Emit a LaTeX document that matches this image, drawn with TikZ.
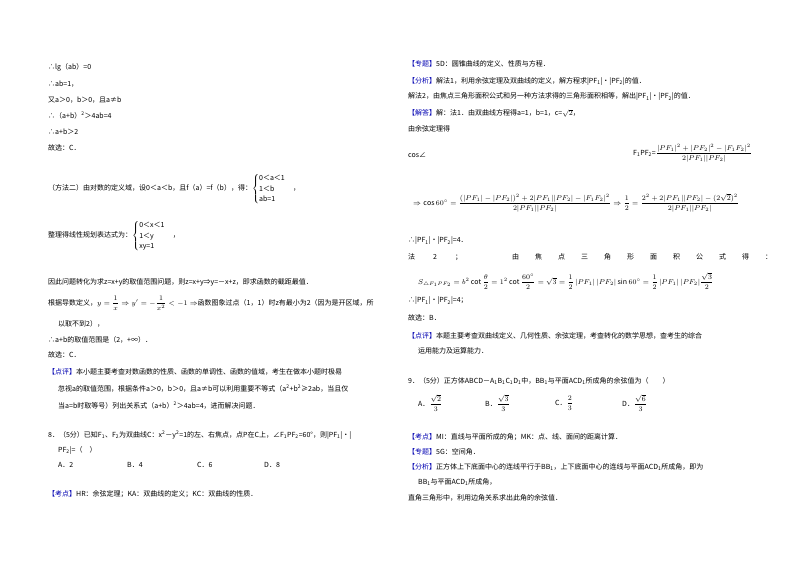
\documentclass[tikz,border=0pt]{standalone}
\usepackage{fontspec}
\usepackage{amsmath}
\setmainfont{Noto Sans CJK SC}
\newfontfamily\serifm{Liberation Serif}
\begin{document}
\begin{tikzpicture}[x=1pt,y=-1pt,
  t/.style={anchor=west,inner sep=0pt,font=\fontsize{7}{8.5}\selectfont}]
\useasboundingbox (0,0) rectangle (800,565);
\fill[white] (0,0) rectangle (800,565);
% left column
\node[t] (l1) at (48,67) {∴lg（ab）=0};
\node[t] (l2) at (48,84) {∴ab=1，};
\node[t] (l3) at (48,100) {又a＞0，b＞0，且a≠b};
\node[t] (l4) at (48,116) {∴（a+b）\textsuperscript{2}＞4ab=4};
\node[t] (l5) at (48,132) {∴a+b＞2};
\node[t] (l6) at (48,148) {故选：C．};
\node[t] (l7) at (48,189) {（方法二）由对数的定义域，设0＜a＜b，且f（a）=f（b），得：$\begin{cases}\text{0＜a＜1}\\ \text{1＜b}\\ \text{ab=1}\end{cases}$，};
\node[t] (l8) at (48,236) {整理得线性规划表达式为：$\begin{cases}\text{0＜x＜1}\\ \text{1＜y}\\ \text{xy=1}\end{cases}$，};
\node[t] (l9) at (48,282) {因此问题转化为求z=x+y的取值范围问题，则z=x+y⇒y=－x+z，即求函数的截距最值．};
\node[t] (l10) at (48,303) {根据导数定义，$y=\dfrac{1}{x}\Rightarrow y'=-\dfrac{1}{x^2}<-1\Rightarrow$函数图象过点（1，1）时z有最小为2（因为是开区域，所};
\node[t] (l11) at (58,324) {以取不到2），};
\node[t] (l12) at (48,340) {∴a+b的取值范围是（2，+∞）．};
\node[t] (l13) at (48,355) {故选：C．};
\node[t] (l14) at (48,372) {\textcolor{blue!70!black}{【点评】}本小题主要考查对数函数的性质、函数的单调性、函数的值域，考生在做本小题时极易};
\node[t] (l15) at (58,389) {忽视a的取值范围，根据条件a＞0，b＞0，且a≠b可以利用重要不等式（a\textsuperscript{2}+b\textsuperscript{2}≥2ab，当且仅};
\node[t] (l16) at (58,406) {当a=b时取等号）列出关系式（a+b）\textsuperscript{2}＞4ab=4，进而解决问题．};
\node[t] (l17) at (48,435) {8．（5分）已知F\textsubscript{1}、F\textsubscript{2}为双曲线C：x\textsuperscript{2}－y\textsuperscript{2}=1的左、右焦点，点P在C上，∠F\textsubscript{1}PF\textsubscript{2}=60°，则|PF\textsubscript{1}|•|};
\node[t] (l18) at (58,450) {PF\textsubscript{2}|=（\quad）};
\node[t] (o1) at (58,465) {A．2};
\node[t] (o2) at (127,465) {B．4};
\node[t] (o3) at (197,465) {C．6};
\node[t] (o4) at (264,465) {D．8};
\node[t] (l19) at (48,494) {\textcolor{blue!70!black}{【考点】}HR：余弦定理；KA：双曲线的定义；KC：双曲线的性质．};
% right column
\node[t] (r1) at (408,64) {\textcolor{blue!70!black}{【专题】}5D：圆锥曲线的定义、性质与方程．};
\node[t] (r2) at (408,81) {\textcolor{blue!70!black}{【分析】}解法1，利用余弦定理及双曲线的定义，解方程求|PF\textsubscript{1}|•|PF\textsubscript{2}|的值．};
\node[t] (r3) at (408,97) {解法2，由焦点三角形面积公式和另一种方法求得的三角形面积相等，解出|PF\textsubscript{1}|•|PF\textsubscript{2}|的值．};
\node[t] (r4) at (408,113) {\textcolor{blue!70!black}{【解答】}解：法1．由双曲线方程得a=1，b=1，c=$\sqrt{2}$，};
\node[t] (r5) at (408,129) {由余弦定理得};
\node[t] (r6) at (408,155) {cos∠};
\node[t] (r7) at (633,153) {F\textsubscript{1}PF\textsubscript{2}=\serifm$\dfrac{|PF_1|^2+|PF_2|^2-|F_1F_2|^2}{2|PF_1||PF_2|}$};
\node[t] (r8) at (413,203) {\serifm$\Rightarrow\cos60^\circ=\dfrac{(|PF_1|-|PF_2|)^2+2|PF_1||PF_2|-|F_1F_2|^2}{2|PF_1||PF_2|}\Rightarrow\dfrac12=\dfrac{2^2+2|PF_1||PF_2|-(2\sqrt2)^2}{2|PF_1||PF_2|}$};
\node[t] (r9) at (408,241) {∴|PF\textsubscript{1}|•|PF\textsubscript{2}|=4．};
\node[t] (r10) at (408,257) {法\hspace{18pt}2\hspace{18pt}；\hspace{50pt}由\hspace{16pt}焦\hspace{16pt}点\hspace{16pt}三\hspace{16pt}角\hspace{16pt}形\hspace{16pt}面\hspace{16pt}积\hspace{16pt}公\hspace{16pt}式\hspace{16pt}得\hspace{16pt}：};
\node[t] (r11) at (418,281) {\serifm$S_{\triangle F_1PF_2}=b^2\cot\dfrac{\theta}{2}=1^2\cot\dfrac{60^\circ}{2}=\sqrt3=\dfrac12\,|PF_1|\,|PF_2|\sin60^\circ=\dfrac12\,|PF_1|\,|PF_2|\dfrac{\sqrt3}{2}$};
\node[t] (r12) at (408,301) {∴|PF\textsubscript{1}|•|PF\textsubscript{2}|=4；};
\node[t] (r13) at (408,318) {故选：B．};
\node[t] (r14) at (408,336) {\textcolor{blue!70!black}{【点评】}本题主要考查双曲线定义、几何性质、余弦定理，考查转化的数学思想，查考生的综合};
\node[t] (r15) at (418,351) {运用能力及运算能力．};
\node[t] (r16) at (408,381) {9．（5分）正方体ABCD－A\textsubscript{1}B\textsubscript{1}C\textsubscript{1}D\textsubscript{1}中，BB\textsubscript{1}与平面ACD\textsubscript{1}所成角的余弦值为（\qquad）};
\node[t] (p1) at (418,403) {A．$\dfrac{\sqrt2}{3}$};
\node[t] (p2) at (485,403) {B．$\dfrac{\sqrt3}{3}$};
\node[t] (p3) at (555,403) {C．$\dfrac{2}{3}$};
\node[t] (p4) at (622,403) {D．$\dfrac{\sqrt6}{3}$};
\node[t] (r17) at (408,437) {\textcolor{blue!70!black}{【考点】}MI：直线与平面所成的角；MK：点、线、面间的距离计算．};
\node[t] (r18) at (408,452) {\textcolor{blue!70!black}{【专题】}5G：空间角．};
\node[t] (r19) at (408,467) {\textcolor{blue!70!black}{【分析】}正方体上下底面中心的连线平行于BB\textsubscript{1}，上下底面中心的连线与平面ACD\textsubscript{1}所成角，即为};
\node[t] (r20) at (418,482) {BB\textsubscript{1}与平面ACD\textsubscript{1}所成角，};
\node[t] (r21) at (408,498) {直角三角形中，利用边角关系求出此角的余弦值．};
\end{tikzpicture}
\end{document}
